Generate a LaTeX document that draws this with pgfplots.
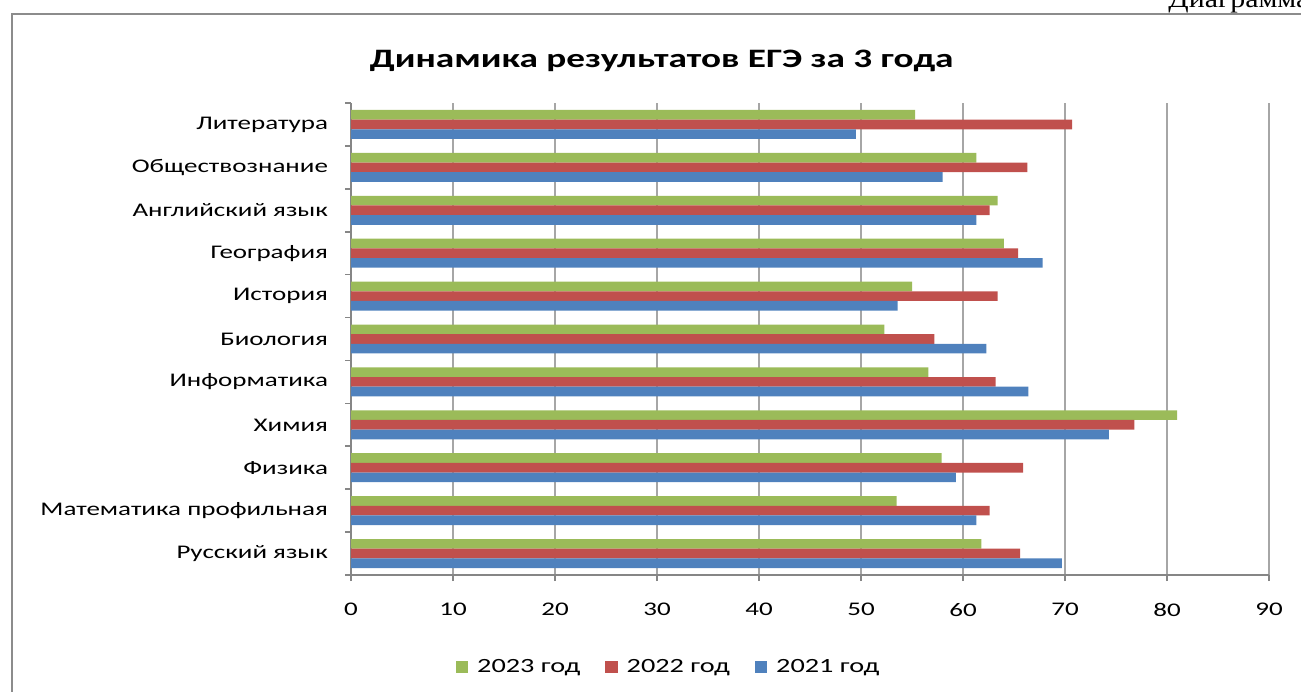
\documentclass[border=0pt]{standalone}
\usepackage{pgfplots}
\pgfplotsset{compat=1.18}
\usepackage{fontspec}
\setmainfont{Carlito}[FakeStretch=1.4]
\newfontfamily\seriffont{Liberation Serif}[FakeStretch=1.15]
\definecolor{g23}{HTML}{9BBB59}
\definecolor{r22}{HTML}{C0504D}
\definecolor{b21}{HTML}{4F81BD}
\definecolor{gridgray}{HTML}{A6A6A6}
\definecolor{axisgray}{HTML}{868686}
\definecolor{framegray}{HTML}{8C8C8C}
\pgfplotsset{sqlegend/.style={legend image code/.code={\fill[##1] (0pt,-3.1pt) rectangle (6.2pt,3.1pt);}}}
\begin{document}
\begin{tikzpicture}[x=1pt,y=1pt]
\useasboundingbox (0,0) rectangle (650.5,345.5);
\clip (0,0) rectangle (650.5,345.5);
\draw[framegray, line width=1.2pt] (6,-5) -- (6,338.5) -- (660,338.5);
\node[anchor=base west, inner sep=0pt, font=\fontsize{13}{15}\seriffont] at (584,341.5) {Диаграмма};
\node[font=\fontsize{13.3}{15}\selectfont\bfseries] at (330.8,315) {Динамика результатов ЕГЭ за 3 года};
\begin{axis}[
  at={(175.5pt,58pt)}, anchor=south west, scale only axis,
  width=459pt, height=236pt,
  xbar, bar width=0.225,
  xmin=0, xmax=90, ymin=-0.5, ymax=10.5,
  xtick={0,10,...,90},
  ytick={-0.5,0.5,...,10.5}, yticklabels={},
  extra y ticks={0,1,2,3,4,5,6,7,8,9,10},
  extra y tick labels={Русский язык,Математика профильная,Физика,Химия,Информатика,Биология,История,География,Английский язык,Обществознание,Литература},
  extra y tick style={major tick length=0pt, grid=none},
  axis x line*=bottom, axis y line*=left,
  xmajorgrids, grid style={color=gridgray, line width=0.8pt},
  tick align=outside, major tick length=3pt,
  tick style={color=axisgray, line width=0.8pt},
  axis line style={color=axisgray, line width=0.8pt},
  /pgf/number format/assume math mode=true,
  ticklabel style={font=\fontsize{9.65}{11}\selectfont},
  xticklabel style={yshift=-7.5pt},
  yticklabel style={xshift=-8pt},
  legend columns=3,
  legend style={draw=none, fill=none, at={(0.347,-0.195)}, anchor=center,
    font=\fontsize{10.1}{12}\selectfont,
    /tikz/every odd column/.append style={column sep=2.5pt},
    /tikz/every even column/.append style={column sep=10.5pt}},
]
\addplot[fill=g23, draw=none, bar shift=0.225, sqlegend] coordinates {
(61.8,0) (53.5,1) (57.9,2) (81.0,3) (56.6,4) (52.3,5) (55.0,6) (64.0,7) (63.4,8) (61.3,9) (55.3,10)};
\addlegendentry{2023 год}
\addplot[fill=r22, draw=none, bar shift=0, sqlegend] coordinates {
(65.6,0) (62.6,1) (65.9,2) (76.8,3) (63.2,4) (57.2,5) (63.4,6) (65.4,7) (62.6,8) (66.3,9) (70.7,10)};
\addlegendentry{2022 год}
\addplot[fill=b21, draw=none, bar shift=-0.225, sqlegend] coordinates {
(69.7,0) (61.3,1) (59.3,2) (74.3,3) (66.4,4) (62.3,5) (53.6,6) (67.8,7) (61.3,8) (58.0,9) (49.5,10)};
\addlegendentry{2021 год}
\end{axis}
\end{tikzpicture}
\end{document}
